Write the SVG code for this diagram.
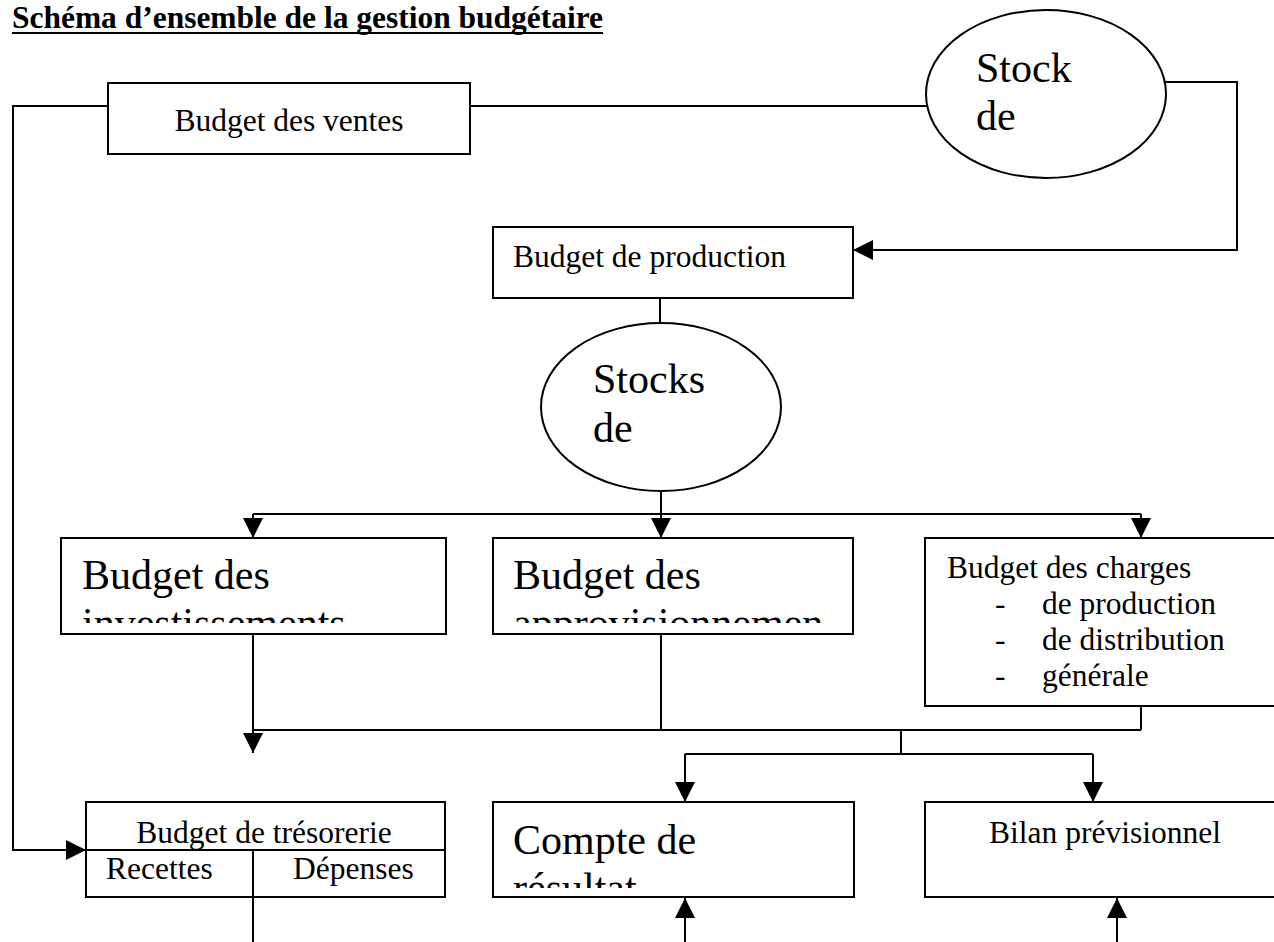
<svg xmlns="http://www.w3.org/2000/svg" width="1274" height="942" viewBox="0 0 1274 942">
<style>
  .box { fill: #ffffff; stroke: #000000; stroke-width: 2; }
  .ln { fill: none; stroke: #000000; stroke-width: 2; }
  .t { font-family: "Liberation Serif", "Times New Roman", serif; font-size: 31.5px; fill: #000000; }
  .big { font-family: "Liberation Serif", "Times New Roman", serif; font-size: 42px; fill: #000000; }
  .title { font-family: "Liberation Serif", "Times New Roman", serif; font-size: 31.5px; font-weight: bold; fill: #000000; }
</style>
<defs>
  <marker id="arr" markerUnits="userSpaceOnUse" markerWidth="20" markerHeight="20" viewBox="0 0 20 20" refX="20" refY="10" orient="auto">
    <path d="M0,0 L20,10 L0,20 z" fill="#000000"/>
  </marker>
  <clipPath id="clipInv"><rect x="61" y="538" width="385" height="85"/></clipPath>
  <clipPath id="clipApp"><rect x="493" y="538" width="350" height="85"/></clipPath>
  <clipPath id="clipCpt"><rect x="493" y="802" width="361" height="86"/></clipPath>
</defs>
<rect width="1274" height="942" fill="#ffffff"/>

<g id="title">
  <text class="title" x="12" y="28" textLength="591" lengthAdjust="spacingAndGlyphs">Schéma d’ensemble de la gestion budgétaire</text>
  <line class="ln" x1="12" y1="33" x2="603" y2="33"/>
</g>

<g id="connectors">
  <path class="ln" d="M108,106 H13 V850 H86" marker-end="url(#arr)"/>
  <path class="ln" d="M470,106 H927"/>
  <path class="ln" d="M1165,82 H1237 V250 H853" marker-end="url(#arr)"/>
  <path class="ln" d="M660,298 V323"/>
  <path class="ln" d="M661,491 V514"/>
  <path class="ln" d="M253,514 H1141"/>
  <path class="ln" d="M253,514 V538" marker-end="url(#arr)"/>
  <path class="ln" d="M661,514 V538" marker-end="url(#arr)"/>
  <path class="ln" d="M1141,514 V538" marker-end="url(#arr)"/>
  <path class="ln" d="M253,634 V753" marker-end="url(#arr)"/>
  <path class="ln" d="M253,730 H1141"/>
  <path class="ln" d="M661,634 V730"/>
  <path class="ln" d="M1141,706 V730"/>
  <path class="ln" d="M901,730 V754"/>
  <path class="ln" d="M685,754 H1093"/>
  <path class="ln" d="M685,754 V802" marker-end="url(#arr)"/>
  <path class="ln" d="M1093,754 V802" marker-end="url(#arr)"/>
  <path class="ln" d="M685,942 V898" marker-end="url(#arr)"/>
  <path class="ln" d="M1117,942 V898" marker-end="url(#arr)"/>
  <path class="ln" d="M253,897 V942"/>
</g>

<g id="budget-ventes">
  <rect class="box" x="108" y="83" width="362" height="71"/>
  <text class="t" x="289" y="131" text-anchor="middle">Budget des ventes</text>
</g>

<g id="stock-produits">
  <ellipse class="box" cx="1046" cy="94" rx="120" ry="84"/>
  <text class="big" x="976" y="82">Stock</text>
  <text class="big" x="976" y="130">de</text>
</g>

<g id="budget-production">
  <rect class="box" x="493" y="227" width="360" height="71"/>
  <text class="t" x="513" y="267">Budget de production</text>
</g>

<g id="stocks-matieres">
  <ellipse class="box" cx="661" cy="407" rx="120" ry="84"/>
  <text class="big" x="593" y="393">Stocks</text>
  <text class="big" x="593" y="442">de</text>
</g>

<g id="budget-investissements">
  <rect class="box" x="61" y="538" width="385" height="96"/>
  <g clip-path="url(#clipInv)">
    <text class="big" x="82" y="589">Budget des</text>
    <text class="big" x="82" y="637">investissements</text>
  </g>
</g>

<g id="budget-approvisionnements">
  <rect class="box" x="493" y="538" width="360" height="96"/>
  <g clip-path="url(#clipApp)">
    <text class="big" x="513" y="589">Budget des</text>
    <text class="big" x="513" y="637">approvisionnemen</text>
  </g>
</g>

<g id="budget-charges">
  <path class="box" d="M1274,538 H925 V706 H1274"/>
  <text class="t" x="947" y="578">Budget des charges</text>
  <text class="t" x="995" y="614">-</text>
  <text class="t" x="1042" y="614">de production</text>
  <text class="t" x="995" y="650">-</text>
  <text class="t" x="1042" y="650">de distribution</text>
  <text class="t" x="995" y="686">-</text>
  <text class="t" x="1042" y="686">générale</text>
</g>

<g id="budget-tresorerie">
  <rect class="box" x="86" y="802" width="359" height="95"/>
  <line class="ln" x1="86" y1="850" x2="445" y2="850"/>
  <line class="ln" x1="253" y1="850" x2="253" y2="897"/>
  <text class="t" x="264" y="843" text-anchor="middle">Budget de trésorerie</text>
  <text class="t" x="106" y="879">Recettes</text>
  <text class="t" x="293" y="879">Dépenses</text>
</g>

<g id="compte-resultat">
  <rect class="box" x="493" y="802" width="361" height="95"/>
  <g clip-path="url(#clipCpt)">
    <text class="big" x="513" y="854">Compte de</text>
    <text class="big" x="513" y="902">résultat</text>
  </g>
</g>

<g id="bilan-previsionnel">
  <path class="box" d="M1274,802 H925 V897 H1274"/>
  <text class="t" x="1105" y="843" text-anchor="middle">Bilan prévisionnel</text>
</g>
</svg>
